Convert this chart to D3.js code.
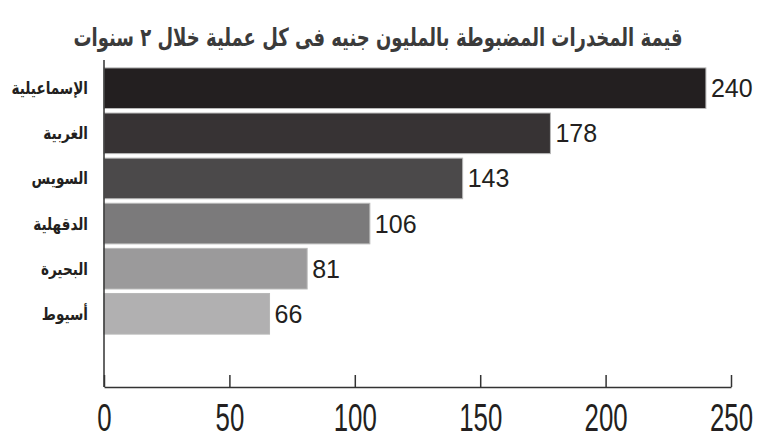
<!DOCTYPE html>
<html>
<head>
<meta charset="utf-8">
<script src="https://cdn.jsdelivr.net/npm/d3@7"></script>
<style>
  body { margin: 0; background: #fff; }
  svg { display: block; }
</style>
</head>
<body>
<div id="chart"></div>
<script>
var title = "قيمة المخدرات المضبوطة بالمليون جنيه فى كل عملية خلال ٢ سنوات";
var regions = ["الإسماعيلية", "الغربية", "السويس", "الدقهلية", "البحيرة", "أسيوط"];
var values = [240, 178, 143, 106, 81, 66];
var barColors = ["#231f20", "#373334", "#4b494a", "#7b7a7b", "#9b9a9b", "#b1b0b1"];
var tickValues = [0, 50, 100, 150, 200, 250];

var width = 779, height = 439;
var margin = {top: 67, right: 48, bottom: 52, left: 104};

var svg = d3.select("#chart").append("svg")
    .attr("width", width)
    .attr("height", height);

var x = d3.scaleLinear()
    .domain([0, 250])
    .range([margin.left, width - margin.right]);

var y = d3.scaleBand()
    .domain(regions)
    .range([margin.top, 335])
    .paddingInner(0.1)
    .paddingOuter(0.02);

svg.append("text")
    .attr("transform", "translate(378,46) scale(0.72,1)")
    .attr("text-anchor", "middle")
    .attr("font-family", "DejaVu Sans")
    .attr("font-weight", "bold")
    .attr("font-size", 25)
    .attr("fill", "#3b3b3b")
    .text(title);

svg.selectAll(".bar")
    .data(values)
  .enter().append("rect")
    .attr("class", "bar")
    .attr("x", x(0))
    .attr("y", function(d, i) { return y(regions[i]); })
    .attr("width", function(d) { return x(d) - x(0); })
    .attr("height", y.bandwidth())
    .attr("fill", function(d, i) { return barColors[i]; })
    .attr("stroke", "#b8b8b8")
    .attr("stroke-width", 1);

svg.selectAll(".val")
    .data(values)
  .enter().append("text")
    .attr("class", "val")
    .attr("x", function(d) { return x(d) + 5; })
    .attr("y", function(d, i) { return y(regions[i]) + y.bandwidth() / 2 + 9; })
    .attr("font-family", "Liberation Sans, Arial, sans-serif")
    .attr("font-size", 25)
    .attr("fill", "#231f20")
    .text(function(d) { return d; });

// condensed bold arabic labels
svg.selectAll(".cat")
    .data(regions)
  .enter().append("text")
    .attr("class", "cat")
    .attr("transform", function(d) { return "translate(88," + (y(d) + y.bandwidth() / 2 + 6) + ") scale(0.8,1)"; })
    .attr("text-anchor", "end")
    .attr("font-family", "DejaVu Sans")
    .attr("font-weight", "bold")
    .attr("font-size", 17)
    .attr("fill", "#231f20")
    .text(function(d) { return d; });

// axes
var axisY = 387;
svg.append("line")
    .attr("x1", x(0)).attr("x2", x(0))
    .attr("y1", 60).attr("y2", axisY)
    .attr("stroke", "#333").attr("stroke-width", 1.5);

var xAxis = svg.append("g")
    .attr("class", "axis axis-x")
    .attr("transform", "translate(0," + axisY + ")")
    .call(d3.axisTop(x).tickValues(tickValues).tickSizeInner(12).tickSizeOuter(0).tickFormat(d3.format("d")));

xAxis.select(".domain").attr("stroke", "#333").attr("stroke-width", 1.5);
xAxis.selectAll(".tick line").attr("stroke", "#333").attr("stroke-width", 1.5);
// narrow tall digits like the reference
xAxis.selectAll(".tick text")
    .attr("y", 44)
    .attr("dy", null)
    .attr("transform", "scale(0.68,1)")
    .attr("font-family", "Liberation Sans, sans-serif")
    .attr("font-size", 38)
    .attr("fill", "#231f20");
</script>
</body>
</html>
